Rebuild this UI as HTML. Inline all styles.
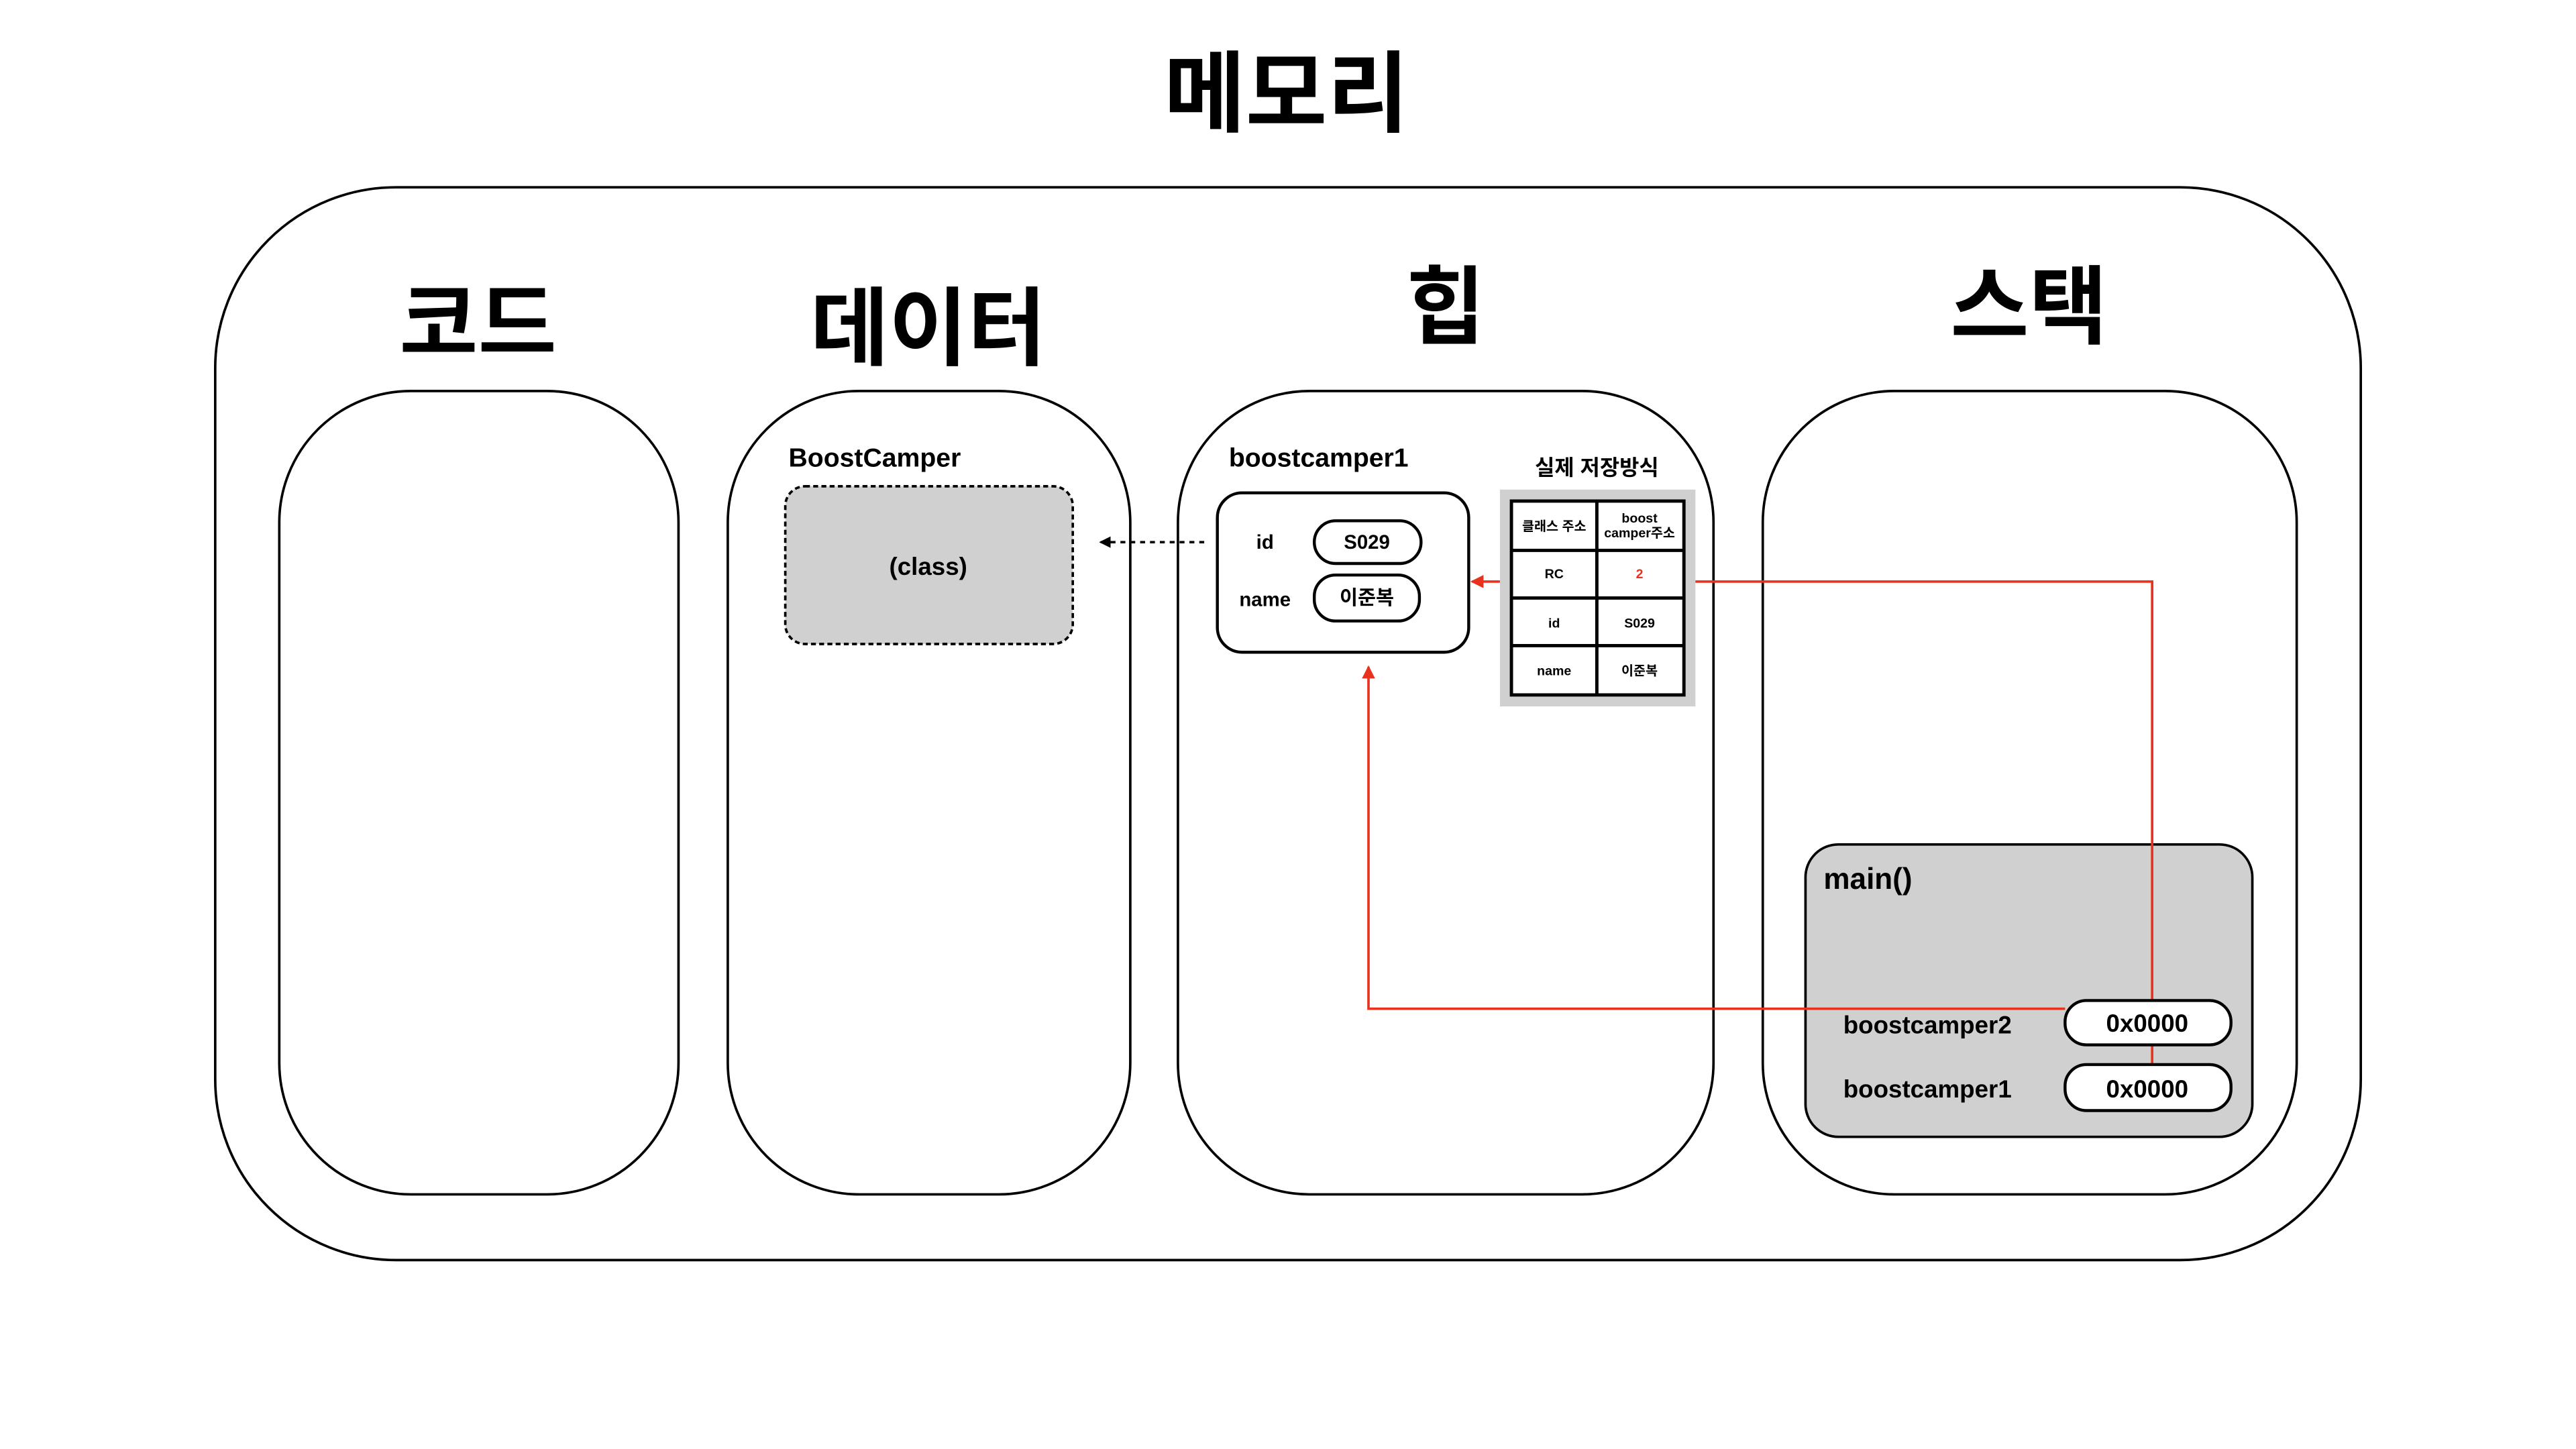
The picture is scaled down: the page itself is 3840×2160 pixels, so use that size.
<!DOCTYPE html>
<html><head><meta charset="utf-8"><style>
html,body{margin:0;padding:0;background:#fff;}
svg{display:block;}
text{font-family:"Liberation Sans","Noto Sans CJK KR",sans-serif;font-weight:bold;fill:#000;}
</style></head><body>
<svg width="3840" height="2160" viewBox="0 0 1568 882" xmlns="http://www.w3.org/2000/svg">
<defs>
<marker id="ar" markerWidth="8" markerHeight="8" refX="7" refY="4" orient="auto" markerUnits="userSpaceOnUse"><path d="M0,0 L8,4 L0,8 z" fill="#e8321e"/></marker>
<marker id="ab" markerWidth="7" markerHeight="7" refX="6" refY="3.5" orient="auto" markerUnits="userSpaceOnUse"><path d="M0,0 L7,3.5 L0,7 z" fill="#000"/></marker>
</defs>
<rect width="1568" height="882" fill="#fff"/>
<text x="783" y="76" font-size="54" text-anchor="middle">메모리</text>
<rect x="131" y="114" width="1306" height="653" rx="110" fill="none" stroke="#000" stroke-width="1.5"/>
<text x="291" y="215" font-size="52" text-anchor="middle">코드</text>
<text x="565" y="218" font-size="52" text-anchor="middle">데이터</text>
<text x="880" y="205" font-size="52" text-anchor="middle">힙</text>
<text x="1235" y="205" font-size="52" text-anchor="middle">스택</text>
<rect x="170" y="238" width="243" height="489" rx="80" fill="none" stroke="#000" stroke-width="1.5"/>
<rect x="443" y="238" width="245" height="489" rx="80" fill="none" stroke="#000" stroke-width="1.5"/>
<rect x="717" y="238" width="326" height="489" rx="80" fill="none" stroke="#000" stroke-width="1.5"/>
<rect x="1073" y="238" width="325" height="489" rx="80" fill="none" stroke="#000" stroke-width="1.5"/>

<text x="480" y="284" font-size="16">BoostCamper</text>
<rect x="478" y="296" width="175" height="96" rx="12" fill="#d0d0d0" stroke="#000" stroke-width="1.5" stroke-dasharray="3,2"/>
<text x="565" y="350" font-size="15" text-anchor="middle">(class)</text>
<line x1="733" y1="330" x2="670" y2="330" stroke="#000" stroke-width="1.5" stroke-dasharray="3,3" marker-end="url(#ab)"/>

<text x="748" y="284" font-size="16">boostcamper1</text>
<rect x="741" y="300" width="153" height="97" rx="15" fill="#fff" stroke="#000" stroke-width="1.8"/>
<text x="770" y="334" font-size="12" text-anchor="middle">id</text>
<rect x="800" y="317" width="65" height="26" rx="13" fill="#fff" stroke="#000" stroke-width="1.8"/>
<text x="832" y="334" font-size="12" text-anchor="middle">S029</text>
<text x="770" y="369" font-size="12" text-anchor="middle">name</text>
<rect x="800" y="350" width="64" height="28" rx="13" fill="#fff" stroke="#000" stroke-width="1.8"/>
<text x="832" y="368" font-size="12" text-anchor="middle">이준복</text>

<text x="972" y="289" font-size="13" text-anchor="middle">실제 저장방식</text>
<rect x="913" y="298" width="119" height="132" fill="#d0d0d0"/>
<rect x="920" y="305" width="105" height="118" fill="#fff" stroke="#000" stroke-width="2"/>
<g stroke="#000" stroke-width="2">
<line x1="972" y1="305" x2="972" y2="423"/>
<line x1="920" y1="335" x2="1025" y2="335"/>
<line x1="920" y1="364" x2="1025" y2="364"/>
<line x1="920" y1="393" x2="1025" y2="393"/>
</g>
<text x="946" y="323" font-size="8" text-anchor="middle">클래스 주소</text>
<text x="998" y="318" font-size="8" text-anchor="middle">boost</text>
<text x="998" y="327" font-size="8" text-anchor="middle">camper주소</text>
<text x="946" y="352" font-size="8" text-anchor="middle">RC</text>
<text x="998" y="352" font-size="8" text-anchor="middle" style="fill:#e8321e">2</text>
<text x="946" y="382" font-size="8" text-anchor="middle">id</text>
<text x="998" y="382" font-size="8" text-anchor="middle">S029</text>
<text x="946" y="411" font-size="8" text-anchor="middle">name</text>
<text x="998" y="411" font-size="8" text-anchor="middle">이준복</text>

<line x1="913" y1="354" x2="896" y2="354" stroke="#e8321e" stroke-width="1.5" marker-end="url(#ar)"/>

<rect x="1099" y="514" width="272" height="178" rx="20" fill="#d0d0d0" stroke="#000" stroke-width="1.5"/>
<text x="1110" y="541" font-size="18">main()</text>
<text x="1122" y="629" font-size="15">boostcamper2</text>
<text x="1122" y="668" font-size="15">boostcamper1</text>

<polyline points="1032,354 1310,354 1310,609" fill="none" stroke="#e8321e" stroke-width="1.5"/>
<line x1="1310" y1="636" x2="1310" y2="648" stroke="#e8321e" stroke-width="1.5"/>
<polyline points="1257,614 833,614 833,406" fill="none" stroke="#e8321e" stroke-width="1.5" marker-end="url(#ar)"/>

<rect x="1257" y="609" width="101" height="27" rx="13" fill="#fff" stroke="#000" stroke-width="1.8"/>
<text x="1307" y="628" font-size="15" text-anchor="middle">0x0000</text>
<rect x="1257" y="648" width="101" height="28" rx="13" fill="#fff" stroke="#000" stroke-width="1.8"/>
<text x="1307" y="668" font-size="15" text-anchor="middle">0x0000</text>
</svg>
</body></html>
